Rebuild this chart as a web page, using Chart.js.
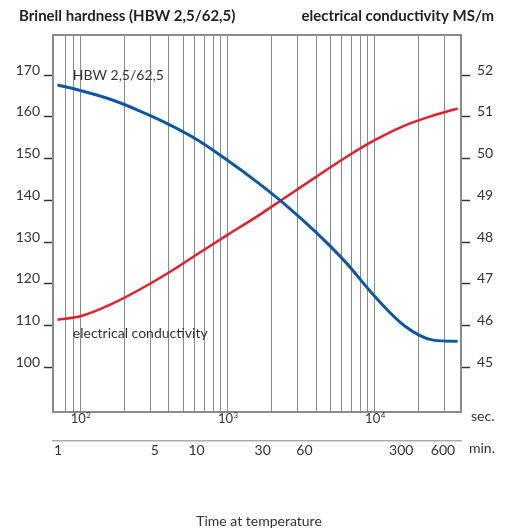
<!DOCTYPE html>
<html>
<head>
<meta charset="utf-8">
<script src="https://cdn.jsdelivr.net/npm/chart.js@4.4.1/dist/chart.umd.min.js"></script>
<style>
html, body { margin: 0; padding: 0; background: #fff; }
#wrap { width: 512px; height: 531px; }
</style>
</head>
<body>
<div id="wrap"><canvas id="chart"></canvas></div>
<script>
// time axis in seconds (log), grid at 1..9 x 10^k
const secGrid = [80, 90, 100, 200, 300, 400, 500, 600, 700, 800, 900,
  1000, 2000, 3000, 4000, 5000, 6000, 7000, 8000, 9000, 10000, 20000, 30000];
const secDecades = [100, 1000, 10000];
const minTicks = [1, 5, 10, 30, 60, 300, 600];
const hbTicks = [100, 110, 120, 130, 140, 150, 160, 170];
const ecTicks = [45, 46, 47, 48, 49, 50, 51, 52];

// sample times (s)
const times = [70, 100, 160, 250, 400, 630, 1000, 1600, 2500, 4000, 6300, 10000, 16000, 25000, 36600];
// hardness HBW 2,5/62,5
const hbValues = [167.6, 166.3, 164.2, 161.5, 158.2, 154.4, 149.6, 144.3, 138.8, 132.3, 125.3, 117.0, 109.9, 106.5, 106.2];
// electrical conductivity MS/m
const ecValues = [46.14, 46.22, 46.50, 46.85, 47.27, 47.72, 48.17, 48.62, 49.08, 49.56, 50.02, 50.44, 50.79, 51.03, 51.20];

const font = "Lato";
const textColor = "#333";
const gridColor = "#8a8a8a";

const extras = {
    id: "extras",
    afterDraw(chart) {
        const { ctx, chartArea: a, scales } = chart;
        ctx.save();
        // top frame line
        ctx.strokeStyle = gridColor;
        ctx.lineWidth = 2;
        ctx.beginPath();
        ctx.moveTo(a.left, a.top);
        ctx.lineTo(a.right, a.top);
        ctx.stroke();

        ctx.fillStyle = "#222";
        ctx.textBaseline = "middle";
        ctx.font = "bold 15px " + font;
        ctx.textAlign = "left";
        ctx.fillText("Brinell hardness (HBW 2,5/62,5)", 19, 16);
        ctx.textAlign = "right";
        ctx.fillText("electrical conductivity MS/m", 494, 16);

        ctx.fillStyle = textColor;
        ctx.font = "14px " + font;
        ctx.textAlign = "left";
        ctx.fillText("sec.", a.right + 10, scales.x.top + 4);
        ctx.fillText("min.", a.right + 8, scales.xm.top + 7);
        ctx.textAlign = "center";
        ctx.fillText("Time at temperature", (a.left + a.right) / 2 + 2, 521);

        // decade labels 10^n on the seconds axis
        secDecades.forEach(function (v) {
            const px = scales.x.getPixelForValue(v);
            const exp = String(Math.round(Math.log10(v)));
            ctx.font = "13px " + font;
            ctx.textAlign = "center";
            ctx.fillText("10", px - 2, scales.x.top + 7);
            ctx.font = "8px " + font;
            ctx.textAlign = "left";
            ctx.fillText(exp, px + 6, scales.x.top + 3);
        });

        // curve labels
        ctx.font = "14px " + font;
        ctx.textAlign = "left";
        ctx.fillText("HBW 2,5/62,5", scales.x.getPixelForValue(89), scales.y.getPixelForValue(170));
        ctx.fillText("electrical conductivity", scales.x.getPixelForValue(89), scales.y.getPixelForValue(108.2));
        ctx.restore();
    }
};

new Chart(document.getElementById("chart").getContext("2d"), {
    type: "line",
    data: {
        datasets: [{
            label: "HBW 2,5/62,5",
            data: times.map((t, i) => ({ x: t, y: hbValues[i] })),
            yAxisID: "y",
            borderColor: "#0b58a5",
            borderWidth: 3,
            pointRadius: 0,
            cubicInterpolationMode: "monotone"
        }, {
            label: "electrical conductivity",
            data: times.map((t, i) => ({ x: t, y: ecValues[i] })),
            yAxisID: "y1",
            borderColor: "#e3202b",
            borderWidth: 2.5,
            pointRadius: 0,
            cubicInterpolationMode: "monotone"
        }]
    },
    options: {
        responsive: true,
        maintainAspectRatio: false,
        animation: false,
        layout: { padding: { top: 35, left: 0, right: 0, bottom: 0 } },
        font: { family: font },
        plugins: {
            legend: { display: false },
            tooltip: { enabled: false }
        },
        scales: {
            x: {
                type: "logarithmic",
                position: "bottom",
                min: 65.3,
                max: 38600,
                afterBuildTicks: s => { s.ticks = secGrid.map(v => ({ value: v })); },
                afterFit: s => { s.height = 29; },
                grid: { color: gridColor, lineWidth: 1, drawTicks: false },
                border: { color: gridColor, width: 2 },
                ticks: { display: false }
            },
            xm: {
                type: "logarithmic",
                position: "bottom",
                min: 0.92,
                max: 809,
                afterBuildTicks: s => { s.ticks = minTicks.map(v => ({ value: v })); },
                afterFit: s => { s.height = 90; },
                grid: { drawOnChartArea: false, drawTicks: false },
                border: { color: "#aaa", width: 1.5 },
                ticks: {
                    autoSkip: false, maxRotation: 0, padding: 1, color: textColor,
                    font: { family: font, size: 14 },
                    callback: v => String(v)
                }
            },
            y: {
                type: "linear",
                position: "left",
                min: 89.28,
                max: 179.59,
                afterBuildTicks: s => { s.ticks = hbTicks.map(v => ({ value: v })); },
                afterFit: s => { s.width = 53; },
                grid: { drawOnChartArea: false, tickLength: 9, tickColor: "#333", tickWidth: 1.5 },
                border: { color: gridColor, width: 2 },
                ticks: { padding: 4, labelOffset: -5, color: textColor, font: { family: font, size: 14 } }
            },
            y1: {
                type: "linear",
                position: "right",
                min: 43.928,
                max: 52.959,
                afterBuildTicks: s => { s.ticks = ecTicks.map(v => ({ value: v })); },
                afterFit: s => { s.width = 51; },
                grid: { drawOnChartArea: false, tickLength: 9, tickColor: "#333", tickWidth: 1.5 },
                border: { color: gridColor, width: 2 },
                ticks: { padding: 7, labelOffset: -5, color: textColor, font: { family: font, size: 14 } }
            }
        }
    },
    plugins: [extras]
});
</script>
</body>
</html>
